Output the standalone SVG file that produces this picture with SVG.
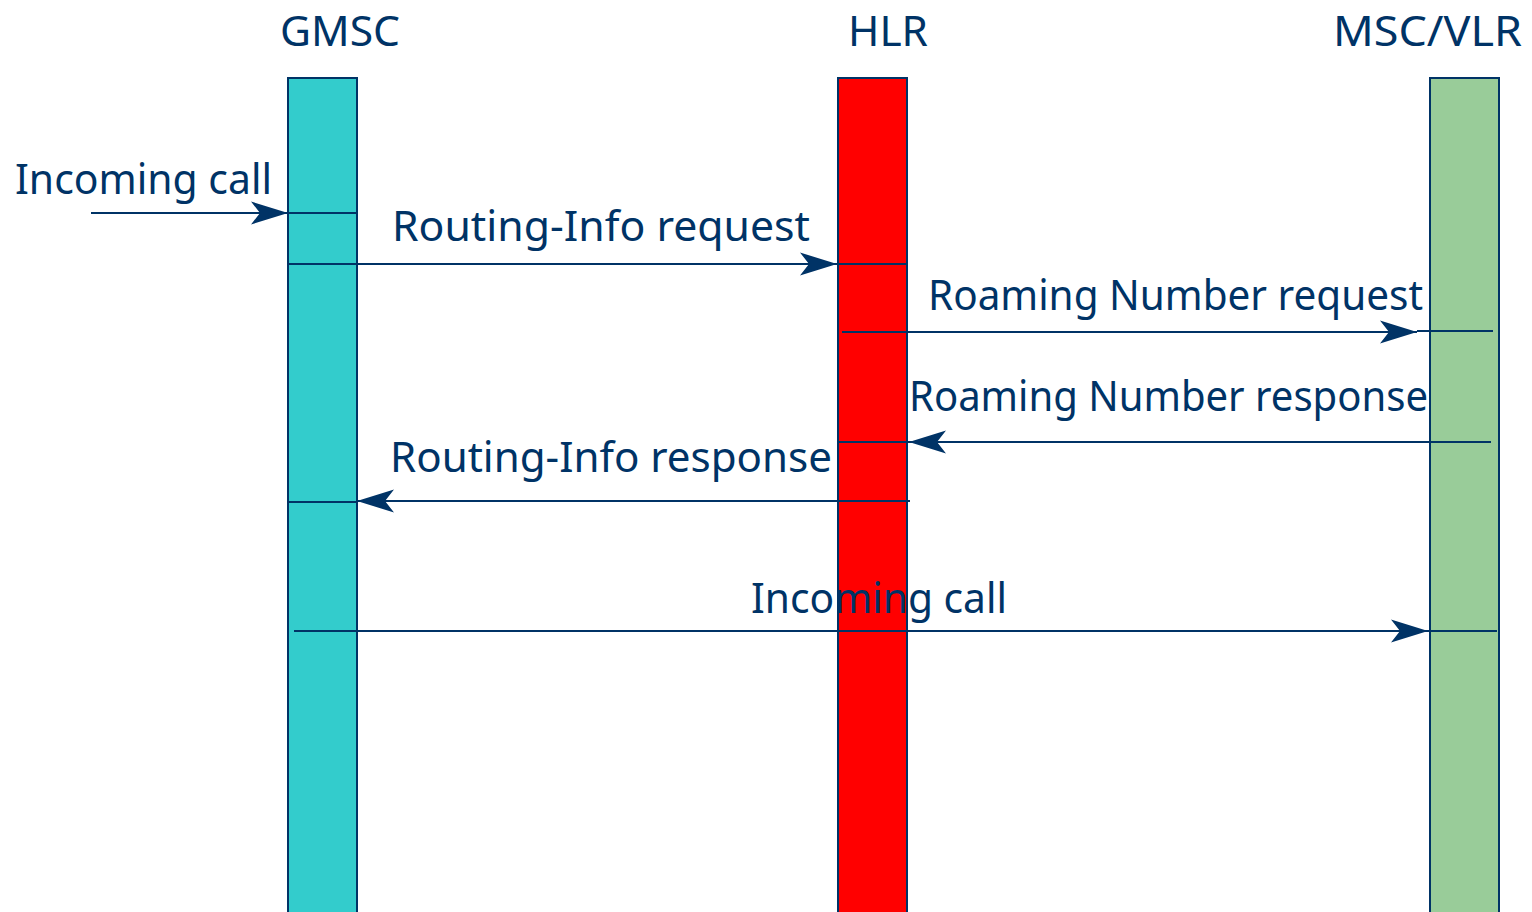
<svg xmlns="http://www.w3.org/2000/svg" width="1532" height="912" viewBox="0 0 1532 912">
<style>
  .bar { stroke: #003366; stroke-width: 2; }
  .conn { stroke: #003366; stroke-width: 2; fill: none; }
  .lbl { font-family: "Comic Sans MS", "Noto Sans", "Liberation Sans", sans-serif; font-size: 42px; fill: #003366; }
</style>
<defs>
  <marker id="arr" markerUnits="userSpaceOnUse" markerWidth="40" markerHeight="26" viewBox="0 0 40 26" refX="39" refY="13" orient="auto">
    <path d="M39,13 L2,1.5 L11,13 L2,24.5 Z" fill="#003366"/>
  </marker>
</defs>
<rect width="1532" height="912" fill="#ffffff"/>

<g id="node-gmsc">
  <rect class="bar" x="288" y="78" width="69" height="850" fill="#33CCCC"/>
  <text class="lbl" x="280" y="46" textLength="120" lengthAdjust="spacingAndGlyphs">GMSC</text>
</g>
<g id="node-hlr">
  <rect class="bar" x="838" y="78" width="69" height="850" fill="#FF0000"/>
  <text class="lbl" x="848" y="46" textLength="80" lengthAdjust="spacingAndGlyphs">HLR</text>
</g>
<g id="node-mscvlr">
  <rect class="bar" x="1430" y="78" width="69" height="850" fill="#99CC99"/>
  <text class="lbl" x="1333" y="46" textLength="189" lengthAdjust="spacingAndGlyphs">MSC/VLR</text>
</g>

<g id="connectors">
  <path class="conn" d="M91,213 H288" marker-end="url(#arr)"/>
  <path class="conn" d="M288,213 H357"/>
  <path class="conn" d="M287,264 H837" marker-end="url(#arr)"/>
  <path class="conn" d="M837,264 H907"/>
  <path class="conn" d="M842,332 H1417" marker-end="url(#arr)"/>
  <path class="conn" d="M1417,331 H1493"/>
  <path class="conn" d="M1491,442 H909" marker-end="url(#arr)"/>
  <path class="conn" d="M838,442 H909"/>
  <path class="conn" d="M910,501 H357" marker-end="url(#arr)"/>
  <path class="conn" d="M288,502 H357"/>
  <path class="conn" d="M294,631 H1428" marker-end="url(#arr)"/>
  <path class="conn" d="M1428,631 H1497"/>
</g>

<g id="labels">
  <text class="lbl" x="15" y="194" textLength="257" lengthAdjust="spacingAndGlyphs">Incoming call</text>
  <text class="lbl" x="392" y="241" textLength="418" lengthAdjust="spacingAndGlyphs">Routing-Info request</text>
  <text class="lbl" x="928" y="310" textLength="495" lengthAdjust="spacingAndGlyphs">Roaming Number request</text>
  <text class="lbl" x="909" y="411" textLength="519" lengthAdjust="spacingAndGlyphs">Roaming Number response</text>
  <text class="lbl" x="390" y="472" textLength="442" lengthAdjust="spacingAndGlyphs">Routing-Info response</text>
  <text class="lbl" x="751" y="613" textLength="256" lengthAdjust="spacingAndGlyphs">Incoming call</text>
</g>
</svg>
